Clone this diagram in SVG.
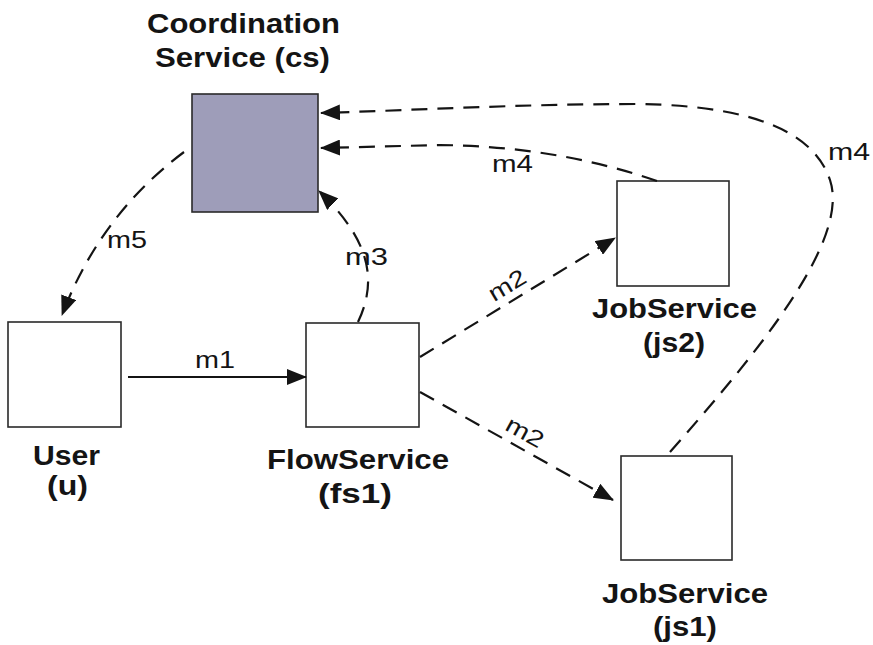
<svg xmlns="http://www.w3.org/2000/svg" width="873" height="645" viewBox="0 0 873 645">
  <style>
    .box { fill: #ffffff; stroke: #2a2a2a; stroke-width: 1.6; }
    .cs { fill: #9e9db9; stroke: #2a2a2a; stroke-width: 1.6; }
    .name { font-family: "Liberation Sans", Arial, sans-serif; font-weight: bold; font-size: 27px; fill: #141414; }
    .msg { font-family: "Liberation Sans", Arial, sans-serif; font-size: 23px; fill: #141414; }
    .solid { fill: none; stroke: #141414; stroke-width: 2.2; }
    .dash { fill: none; stroke: #141414; stroke-width: 2.2; stroke-dasharray: 16 10; }
  </style>
  <defs>
    <marker id="arrow" viewBox="0 0 20 16" refX="19" refY="8" markerWidth="20" markerHeight="16" markerUnits="userSpaceOnUse" orient="auto">
      <path d="M0,0 L20,8 L0,16 z" fill="#141414"/>
    </marker>
  </defs>

  <rect width="873" height="645" fill="#ffffff"/>

  <!-- services -->
  <g id="cs">
    <rect class="cs" x="192" y="94" width="126" height="118"/>
    <text class="name" x="147" y="33" textLength="193" lengthAdjust="spacingAndGlyphs">Coordination</text>
    <text class="name" x="155" y="67" textLength="175" lengthAdjust="spacingAndGlyphs">Service (cs)</text>
  </g>
  <g id="user">
    <rect class="box" x="8" y="322" width="113" height="105"/>
    <text class="name" x="33" y="465" textLength="67" lengthAdjust="spacingAndGlyphs">User</text>
    <text class="name" x="47" y="495" textLength="41" lengthAdjust="spacingAndGlyphs">(u)</text>
  </g>
  <g id="fs1">
    <rect class="box" x="306" y="323" width="113" height="104"/>
    <text class="name" x="267" y="469" textLength="182" lengthAdjust="spacingAndGlyphs">FlowService</text>
    <text class="name" x="318" y="503" textLength="74" lengthAdjust="spacingAndGlyphs">(fs1)</text>
  </g>
  <g id="js2">
    <rect class="box" x="617" y="181" width="112" height="105"/>
    <text class="name" x="592" y="318" textLength="165" lengthAdjust="spacingAndGlyphs">JobService</text>
    <text class="name" x="643" y="352" textLength="62" lengthAdjust="spacingAndGlyphs">(js2)</text>
  </g>
  <g id="js1">
    <rect class="box" x="621" y="456" width="111" height="104"/>
    <text class="name" x="602" y="603" textLength="166" lengthAdjust="spacingAndGlyphs">JobService</text>
    <text class="name" x="653" y="636" textLength="64" lengthAdjust="spacingAndGlyphs">(js1)</text>
  </g>

  <!-- messages -->
  <g id="connectors">
    <path class="solid" d="M128,377 L306,377" marker-end="url(#arrow)"/>
    <path class="dash" d="M420,357 L615,238" marker-end="url(#arrow)"/>
    <path class="dash" d="M420,392 L613,500" marker-end="url(#arrow)"/>
    <path class="dash" d="M358,322 C378,280 370,240 319,191" marker-end="url(#arrow)"/>
    <path class="dash" d="M657,181 C590,158 520,146 440,145 L321,148" marker-end="url(#arrow)"/>
    <path class="dash" d="M670,452 C760,350 850,240 830,180 C815,135 760,106 640,104 C520,104 420,110 321,113" marker-end="url(#arrow)"/>
    <path class="dash" d="M184,152 Q100,215 62,315" marker-end="url(#arrow)"/>

    <text class="msg" x="195" y="368" textLength="40" lengthAdjust="spacingAndGlyphs">m1</text>
    <text class="msg" x="107" y="248" textLength="40" lengthAdjust="spacingAndGlyphs">m5</text>
    <text class="msg" x="345" y="265" textLength="43" lengthAdjust="spacingAndGlyphs">m3</text>
    <text class="msg" x="492" y="172" textLength="41" lengthAdjust="spacingAndGlyphs">m4</text>
    <text class="msg" x="828" y="160" textLength="42" lengthAdjust="spacingAndGlyphs">m4</text>
    <text class="msg" transform="translate(507,285) rotate(-31)" x="-20" y="8" textLength="40" lengthAdjust="spacingAndGlyphs">m2</text>
    <text class="msg" transform="translate(525,432) rotate(29)" x="-20" y="8" textLength="40" lengthAdjust="spacingAndGlyphs">m2</text>
  </g>
</svg>
